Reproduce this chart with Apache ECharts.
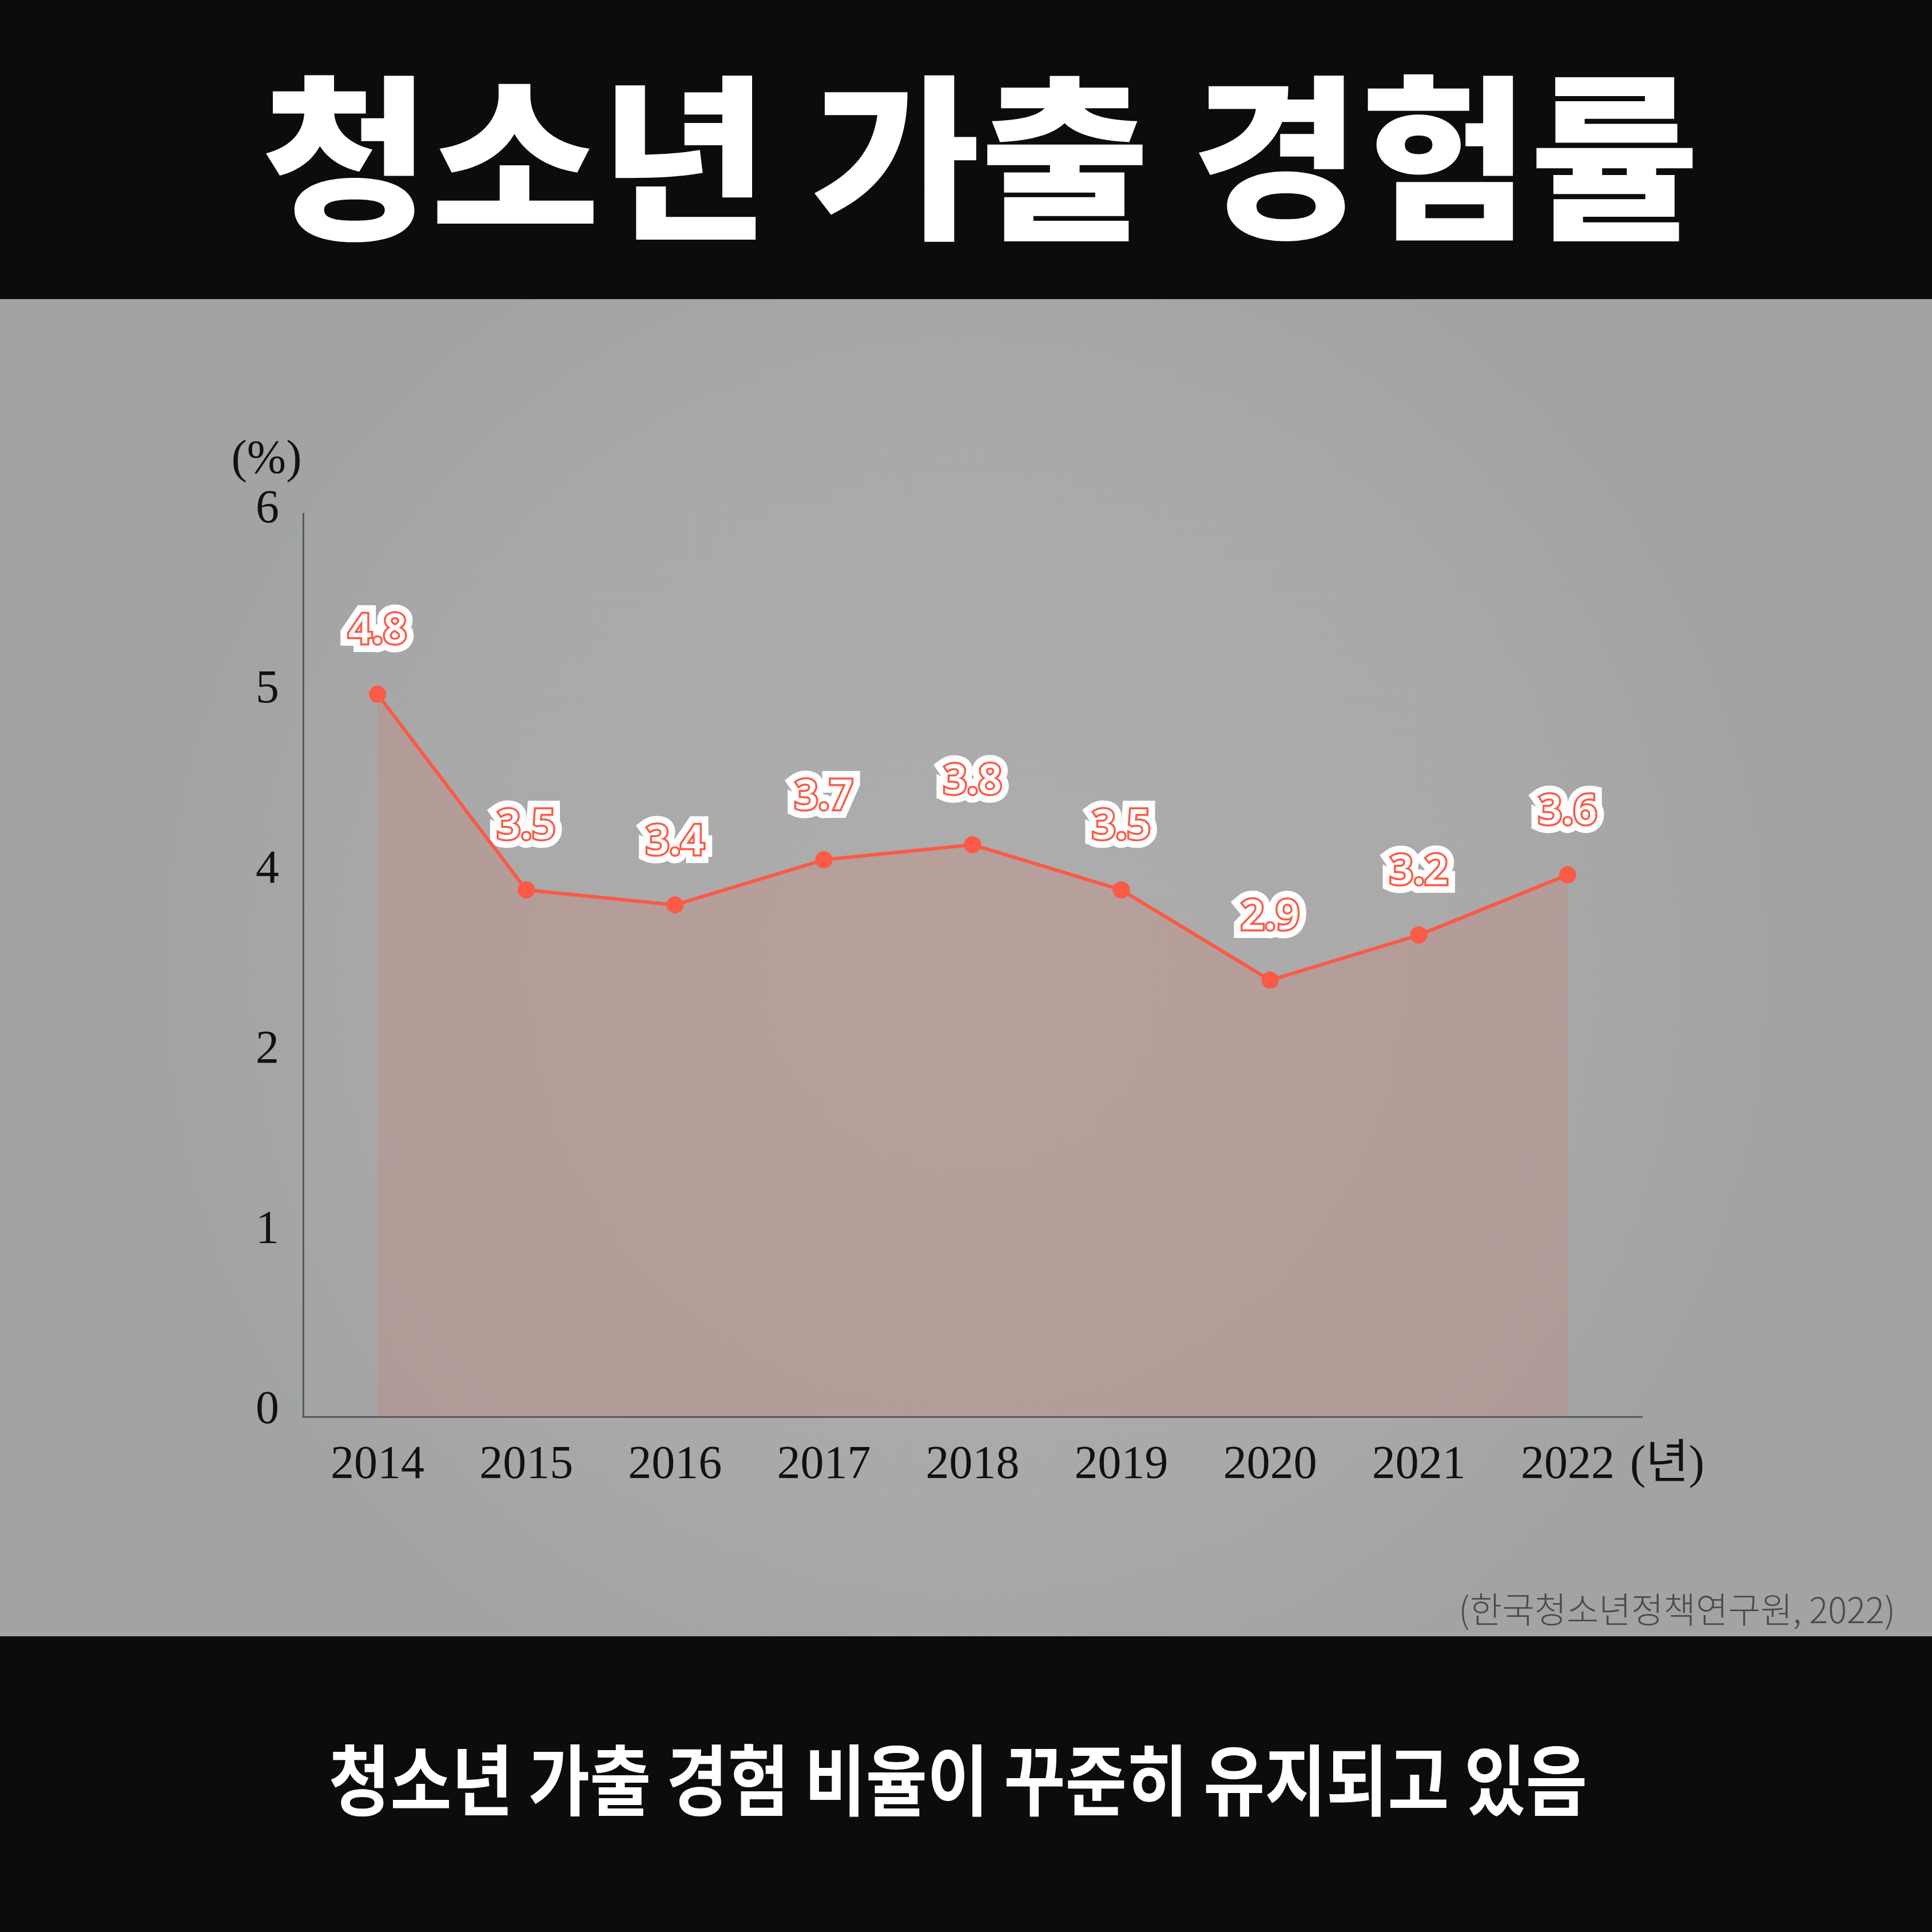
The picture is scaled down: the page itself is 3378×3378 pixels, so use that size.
<!DOCTYPE html>
<html>
<head>
<meta charset="utf-8">
<style>
  html, body { margin: 0; padding: 0; background: #0b0c0e; }
  #chart { width: 3378px; height: 3378px; }
</style>
<script src="https://cdn.jsdelivr.net/npm/echarts@6/dist/echarts.min.js"></script>
</head>
<body>
<div id="chart"></div>
<script>
const titleText = '청소년 가출 경험률';
const subtitleText = '청소년 가출 경험 비율이 꾸준히 유지되고 있음';
const sourceText = '(한국청소년정책연구원, 2022)';
const yAxisName = '(%)';
const xAxisName = '(년)';
const years = ['2014', '2015', '2016', '2017', '2018', '2019', '2020', '2021', '2022'];
const rates = [4.8, 3.5, 3.4, 3.7, 3.8, 3.5, 2.9, 3.2, 3.6];
const yTickLabels = ['0', '1', '2', '4', '5', '6'];

const RED = '#fa5a46';
const AXIS = '#55585d';
const SERIF = '"Liberation Serif", "Noto Sans CJK KR", serif';
const LABEL_FONT = '"Noto Sans", "DejaVu Sans", sans-serif';

const chart = echarts.init(document.getElementById('chart'), null, { renderer: 'canvas' });

const option = {
  animation: false,
  backgroundColor: 'transparent',
  graphic: [
    { type: 'rect', z: -100, shape: { x: 0, y: 0, width: 3378, height: 3378 }, style: { fill: '#0b0c0e' } },
    { type: 'rect', z: -99, shape: { x: 0, y: 523, width: 3378, height: 2338 },
      style: { fill: { type: 'radial', x: 0.5, y: 0.5, r: 0.6,
        colorStops: [{ offset: 0, color: '#adadad' }, { offset: 0.7, color: '#a8a9a8' }, { offset: 1, color: '#a2a4a4' }] } } },
    { type: 'text', z: 100, x: 1714, y: 276, scaleX: 1.037,
      style: { text: titleText, fill: '#ffffff', fontSize: 310, fontWeight: 900,
        fontFamily: '"Noto Sans CJK KR", sans-serif', textAlign: 'center', textVerticalAlign: 'middle' } },
    { type: 'text', z: 100, x: 1675, y: 3113, scaleX: 0.865,
      style: { text: subtitleText, fill: '#ffffff', fontSize: 135, fontWeight: 700,
        fontFamily: '"Noto Sans CJK KR", sans-serif', textAlign: 'center', textVerticalAlign: 'middle' } },
    { type: 'text', z: 100, x: 3314, y: 2814, scaleX: 0.99,
      style: { text: sourceText, fill: '#4a4b4c', fontSize: 62, fontWeight: 300,
        fontFamily: '"Noto Sans CJK KR", sans-serif', textAlign: 'right', textVerticalAlign: 'middle' } },
    { type: 'text', z: 100, x: 466, y: 804,
      style: { text: yAxisName, fill: '#111111', fontSize: 82,
        fontFamily: SERIF, textAlign: 'center', textVerticalAlign: 'middle' } },
    { type: 'text', z: 100, x: 2850, y: 2562,
      style: { text: xAxisName, fill: '#111111', fontSize: 82,
        fontFamily: SERIF, textAlign: 'left', textVerticalAlign: 'middle' } }
  ],
  grid: [
    { left: 530, right: 507, top: 898, bottom: 901 },
    { left: 530, right: 507, top: 891, bottom: 912 }
  ],
  xAxis: [
    {
      type: 'category',
      gridIndex: 0,
      data: years,
      boundaryGap: true,
      axisLine: { show: true, lineStyle: { color: AXIS, width: 3 } },
      axisTick: { show: false },
      splitLine: { show: false },
      axisLabel: { color: '#111111', fontSize: 82, fontFamily: SERIF, margin: 44 }
    },
    {
      type: 'category',
      gridIndex: 1,
      data: years,
      show: false
    }
  ],
  yAxis: [
    {
      type: 'value', gridIndex: 0, min: 0, max: 6, interval: 1,
      axisLine: { show: true, lineStyle: { color: AXIS, width: 3 } },
      axisTick: { show: false },
      axisLabel: { show: false },
      splitLine: { show: false }
    },
    {
      type: 'value', gridIndex: 1, position: 'left', min: 0, max: yTickLabels.length - 1, interval: 1,
      axisLine: { show: false },
      axisTick: { show: false },
      splitLine: { show: false },
      axisLabel: {
        color: '#111111', fontSize: 82, fontFamily: SERIF, margin: 42,
        formatter: function (v) { return yTickLabels[Math.round(v)]; }
      }
    }
  ],
  series: [
    {
      name: 'halo',
      type: 'line',
      xAxisIndex: 0,
      yAxisIndex: 0,
      z: 2,
      silent: true,
      data: rates,
      symbol: 'circle',
      symbolSize: 30,
      itemStyle: { color: 'rgba(0,0,0,0)' },
      lineStyle: { width: 0, color: 'rgba(0,0,0,0)' },
      label: {
        show: true, position: 'top', distance: 58,
        color: '#ffffff', fontSize: 72, fontWeight: 600, fontFamily: LABEL_FONT,
        textBorderColor: '#ffffff', textBorderWidth: 30,
        formatter: function (p) { return p.value.toFixed(1); }
      }
    },
    {
      name: '가출 경험률',
      type: 'line',
      xAxisIndex: 0,
      yAxisIndex: 0,
      z: 3,
      data: rates,
      symbol: 'circle',
      symbolSize: 30,
      itemStyle: { color: RED },
      lineStyle: { color: RED, width: 6 },
      areaStyle: { color: 'rgba(250,90,70,0.21)' },
      label: {
        show: true, position: 'top', distance: 58,
        color: '#ffffff', fontSize: 72, fontWeight: 600, fontFamily: LABEL_FONT,
        textBorderColor: RED, textBorderWidth: 7,
        formatter: function (p) { return p.value.toFixed(1); }
      }
    }
  ]
};

chart.setOption(option);
</script>
</body>
</html>
